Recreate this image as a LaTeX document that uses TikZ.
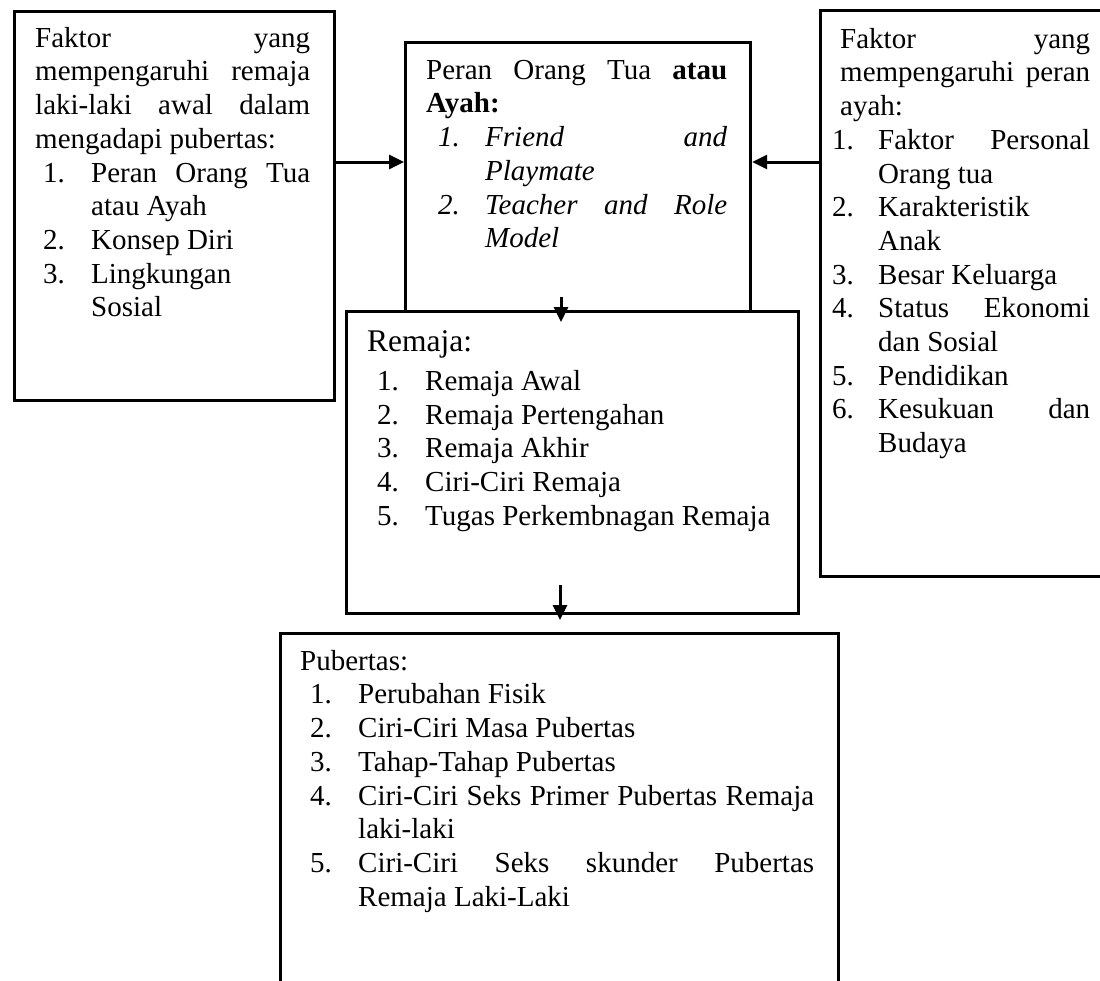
\documentclass[tikz,border=0pt]{standalone}
\usepackage{fontspec}
\setmainfont{Liberation Serif}
\usepackage{enumitem}
\usetikzlibrary{arrows.meta,positioning,calc}
\setlist[enumerate]{nosep, label=\arabic*., align=left, labelsep=0pt}
\newcommand{\jl}[1]{\makebox[\linewidth][s]{#1}\\}
\newcommand{\fst}{\rule{0pt}{22pt}}

\begin{document}
\begin{tikzpicture}[x=1pt, y=-1pt,
  frame/.style={draw, line width=3.2pt, inner sep=0pt, anchor=north west},
  txt/.style={anchor=north west, inner sep=0pt, font=\fontsize{29pt}{33.7pt}\selectfont},
  conn/.style={-{Triangle[length=15pt, width=14pt]}, line width=3pt}]
\clip (0,0) rectangle (1100,980);
\fill[white] (0,0) rectangle (1100,980);
\node[frame, minimum width=320pt, minimum height=389pt] (L) at (13,9.5) {};
\node[frame, minimum width=345pt, minimum height=269pt] (P) at (404,41) {};
\node[frame, minimum width=292pt, minimum height=566pt] (R) at (819,9) {};
\node[frame, minimum width=452pt, minimum height=302pt] (M) at (345,310) {};
\node[frame, minimum width=558pt, minimum height=400pt] (B) at (279,632) {};
\node[txt] (Ltext) at (35,25) {\begin{minipage}[t]{275pt}
\fst\jl{Faktor yang}\jl{mempengaruhi remaja}\jl{laki-laki awal dalam}mengadapi pubertas:
\begin{enumerate}[left=8pt..56pt]
\item \jl{Peran Orang Tua}atau Ayah
\item Konsep Diri
\item Lingkungan\\Sosial
\end{enumerate}
\end{minipage}};
\node[txt] (Ptext) at (426,57) {\begin{minipage}[t]{301pt}
\fst\jl{Peran Orang Tua \textbf{atau}}\textbf{Ayah:}
\begin{enumerate}[left=12pt..59pt, label=\textit{\arabic*.}, before=\itshape]
\item \jl{Friend and}Playmate
\item \jl{Teacher and Role}Model
\end{enumerate}
\end{minipage}};
\node[txt] (Rtext) at (840,26) {\begin{minipage}[t]{250pt}
\fst\jl{Faktor yang}\jl{mempengaruhi peran}ayah:
\begin{enumerate}[left=-8pt..38pt]
\item \jl{Faktor Personal}Orang tua
\item Karakteristik\\Anak
\item Besar Keluarga
\item \jl{Status Ekonomi}dan Sosial
\item Pendidikan
\item \jl{Kesukuan dan}Budaya
\end{enumerate}
\end{minipage}};
\node[txt] (Mtext) at (367,327) {\begin{minipage}[t]{410pt}
{\fontsize{31.5pt}{33.7pt}\selectfont\rule{0pt}{24pt}Remaja:\par}\vspace{5.5pt}
\begin{enumerate}[left=10pt..58pt]
\item Remaja Awal
\item Remaja Pertengahan
\item Remaja Akhir
\item Ciri-Ciri Remaja
\item Tugas Perkembnagan Remaja
\end{enumerate}
\end{minipage}};
\node[txt] (Btext) at (300,648) {\begin{minipage}[t]{514pt}
\fst Pubertas:
\begin{enumerate}[left=10pt..58pt]
\item Perubahan Fisik
\item Ciri-Ciri Masa Pubertas
\item Tahap-Tahap Pubertas
\item \jl{Ciri-Ciri Seks Primer Pubertas Remaja}laki-laki
\item \jl{Ciri-Ciri Seks skunder Pubertas}Remaja Laki-Laki
\end{enumerate}
\end{minipage}};
\coordinate (lvl) at (0,162);
\coordinate (pm) at (561,297);
\coordinate (pmtip) at (561,322);
\coordinate (mb) at (560,585);
\coordinate (mbtip) at (560,620);
\draw[conn] (L.east |- lvl) -- (P.west |- lvl);
\draw[conn] (R.west |- lvl) -- (P.east |- lvl);
\draw[conn] (pm) -- (pmtip);
\draw[conn] (mb) -- (mbtip);
\end{tikzpicture}
\end{document}
